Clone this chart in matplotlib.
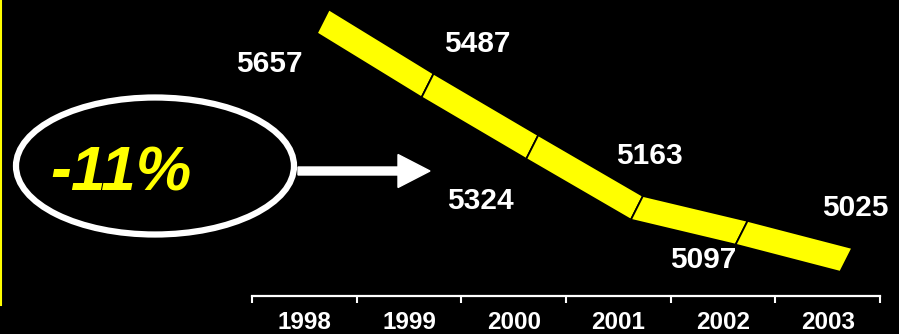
"""Declining yearly totals shown as a yellow 3D ribbon, with a -11% callout."""

import matplotlib
matplotlib.use("Agg")
import matplotlib.pyplot as plt
from matplotlib.patches import Ellipse, FancyArrow, Polygon
from matplotlib.lines import Line2D

years = ["1998", "1999", "2000", "2001", "2002", "2003"]
values = [5657, 5487, 5324, 5163, 5097, 5025]
change_label = "-11%"

# label placement relative to each front point, in pixels (x right, y up)
label_offsets = [(-48, -31), (56, 53), (-46, -42), (19, 64), (-32, -15), (15, 64)]

YELLOW = "#FFFF00"
FONT = "Liberation Sans"

fig = plt.figure(figsize=(8.99, 3.34), dpi=100, facecolor="black")
ax = fig.add_axes([252 / 899, 38 / 334, 628 / 899, 296 / 334])
ax.set_facecolor("black")
ax.set_xlim(-0.5, 5.5)
ax.set_ylim(4961, 5745)

# ribbon: front edge through the values, back edge shifted up-right for depth
shift = 0.12
depth_x, depth_y = 0.115, 63.0
xs = [i + shift for i in range(len(values))]
for i in range(len(values) - 1):
    pts = [
        (xs[i], values[i]),
        (xs[i + 1], values[i + 1]),
        (xs[i + 1] + depth_x, values[i + 1] + depth_y),
        (xs[i] + depth_x, values[i] + depth_y),
    ]
    ax.add_patch(Polygon(pts, closed=True, facecolor=YELLOW, edgecolor="black", lw=1.3))

for x, v, off in zip(xs, values, label_offsets):
    ax.annotate(str(v), (x, v), xytext=off, textcoords="offset pixels",
                ha="center", va="center", color="white", fontsize=21.5,
                fontweight="bold", family=FONT)

# axis: white baseline with boundary ticks, year labels between them
for side in ["top", "left", "right"]:
    ax.spines[side].set_visible(False)
ax.spines["bottom"].set_color("white")
ax.spines["bottom"].set_linewidth(1.6)
ax.set_yticks([])
ax.set_xticks([i - 0.5 for i in range(len(years) + 1)])
ax.set_xticklabels([])
ax.tick_params(axis="x", which="major", colors="white", length=5, width=1.5, direction="out")
ax.set_xticks(range(len(years)), minor=True)
ax.set_xticklabels(years, minor=True)
ax.tick_params(axis="x", which="minor", length=0, pad=11, labelcolor="white")
for lbl in ax.get_xticklabels(minor=True):
    lbl.set_fontsize(17.5)
    lbl.set_fontweight("bold")
    lbl.set_family(FONT)

# callout on the left, drawn in figure inches
tr = fig.dpi_scale_trans
fig.patches.append(Ellipse((1.55, 1.68), 2.78, 1.37, transform=tr,
                           facecolor="none", edgecolor="white", lw=4.5))
fig.patches.append(FancyArrow(2.98, 1.63, 1.32, 0, width=0.08, head_width=0.33,
                              head_length=0.32, length_includes_head=True,
                              transform=tr, color="white"))
fig.text(1.21, 1.60, change_label, transform=tr, ha="center", va="center",
         color=YELLOW, fontsize=45, fontweight="bold", style="italic", family=FONT)
fig.lines.append(Line2D([0.012, 0.012], [3.34, 0.29], transform=tr, color=YELLOW, lw=1.5))

fig.savefig("out.png", dpi=100, facecolor="black")
